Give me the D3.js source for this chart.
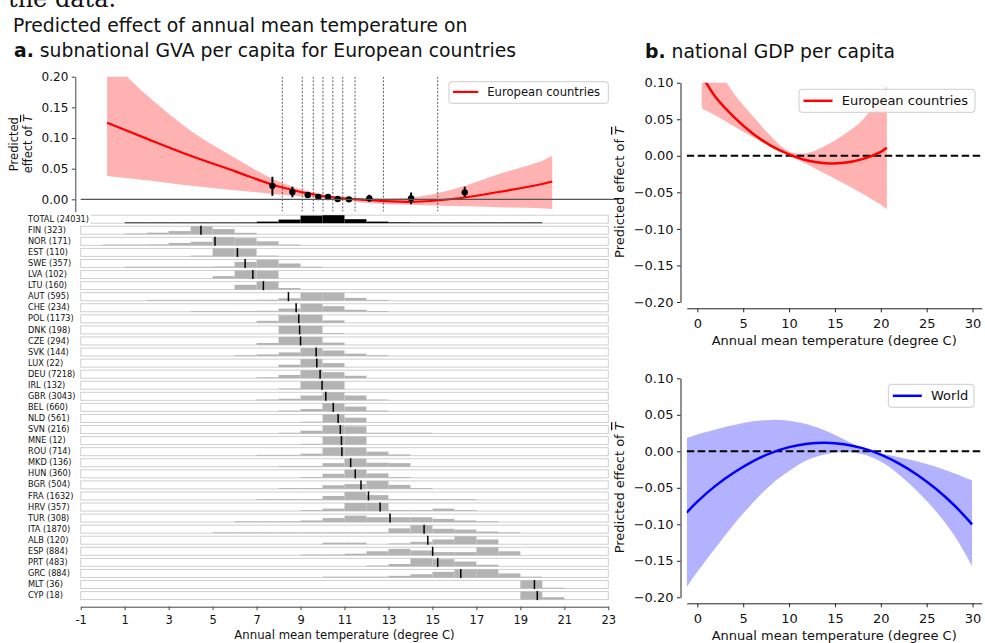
<!DOCTYPE html>
<html>
<head>
<meta charset="utf-8">
<script src="https://cdn.jsdelivr.net/npm/d3@7"></script>
<style>
body { margin: 0; background: #fff; }
svg { display: block; font-family: "DejaVu Sans", sans-serif; }
</style>
</head>
<body>
<svg id="chart" width="985" height="643"></svg>
<script>
// ---------- panel a, top: fitted curve for European regions ----------
var curveTemps  = [0.2, 2, 4, 6, 8, 10, 12, 14, 16, 18, 20, 20.45];
var curveEffect = [0.125, 0.099, 0.071, 0.046, 0.021, 0.0055, -0.001, -0.004, 0.001, 0.012, 0.025, 0.029];
var curveUpper  = [0.232, 0.170, 0.112, 0.068, 0.029, 0.008, 0.002, 0.003, 0.017, 0.041, 0.063, 0.071];
var curveLower  = [0.038, 0.031, 0.022, 0.015, 0.008, 0.002, -0.006, -0.009, -0.011, -0.013, -0.015, -0.016];

// decile bin estimates (dots with error bars) and decile cut points
var binTemps  = [7.72, 8.63, 9.33, 9.81, 10.25, 10.69, 11.2, 12.13, 14.03, 16.47];
var binEffect = [0.022, 0.012, 0.007, 0.0037, 0.0037, 0.0006, 0.0, 0.0016, 0.0016, 0.0114];
var binLow    = [0.006, 0.0035, 0.0026, 0.001, 0.001, -0.001, -0.0015, -0.004, -0.008, 0.004];
var binHigh   = [0.037, 0.0205, 0.0114, 0.006, 0.006, 0.002, 0.0015, 0.0075, 0.011, 0.0206];
var cutTemps  = [8.17, 9.08, 9.58, 10.02, 10.47, 10.92, 11.48, 12.77, 15.24];

// ---------- panel a, bottom: temperature distribution per country ----------
var totalCount = 24031;
var totalHistStart = 1;
var totalHistShare = [0.01, 0.01, 0.02, 0.03, 0.05, 0.1, 0.2, 0.45, 0.95, 1.0, 0.5, 0.2, 0.12, 0.1, 0.08, 0.06, 0.05, 0.03, 0.01];

var countryCodes = ['FIN', 'NOR', 'EST', 'SWE', 'LVA', 'LTU', 'AUT', 'CHE', 'POL', 'DNK', 'CZE', 'SVK',
                    'LUX', 'DEU', 'IRL', 'GBR', 'BEL', 'NLD', 'SVN', 'MNE', 'ROU', 'MKD', 'HUN', 'BGR',
                    'FRA', 'HRV', 'TUR', 'ITA', 'ALB', 'ESP', 'PRT', 'GRC', 'MLT', 'CYP'];
var countryCounts = [323, 171, 110, 357, 102, 160, 595, 234, 1173, 198, 294, 144,
                     22, 7218, 132, 3043, 660, 561, 216, 12, 714, 136, 360, 504,
                     1632, 357, 308, 1870, 120, 884, 483, 884, 36, 18];
var countryMeans = [4.47, 5.11, 6.13, 6.48, 6.83, 7.31, 8.45, 8.8, 8.92, 8.96, 9.0, 9.71,
                    9.74, 9.89, 9.98, 10.15, 10.49, 10.71, 10.81, 10.86, 10.88, 11.28, 11.49, 11.75,
                    12.09, 12.62, 13.07, 14.62, 14.79, 15.01, 15.24, 16.29, 19.64, 19.77];
var histStart = [1, 0, 4, 1, 5, 6, 2, 4, 7, 8, 7, 6,
                 8, 7, 8, 7, 8, 9, 8, 9, 7, 8, 9, 8,
                 7, 9, 6, 5, 10, 9, 12, 10, 19, 19];
var histShare = [
  [0.08, 0.2, 0.4, 1.0, 0.65, 0.18],
  [0.03, 0.05, 0.12, 0.3, 0.45, 1.0, 0.9, 0.5, 0.1],
  [0.05, 1.0, 0.95, 0.1],
  [0.02, 0.03, 0.04, 0.06, 0.13, 0.7, 0.95, 0.5, 0.06],
  [0.3, 1.0, 0.95],
  [0.6, 1.0, 0.2],
  [0.03, 0.04, 0.05, 0.08, 0.1, 0.12, 0.3, 1.0, 1.0, 0.35, 0.05],
  [0.03, 0.04, 0.06, 0.12, 0.4, 1.0, 0.7, 0.25, 0.05],
  [0.25, 0.95, 1.0, 0.3],
  [1.0, 1.0, 0.1],
  [0.25, 1.0, 1.0, 0.3],
  [0.04, 0.2, 0.45, 1.0, 0.7, 0.3, 0.05],
  [0.3, 1.0, 0.5],
  [0.1, 0.4, 1.0, 0.75, 0.3],
  [0.05, 1.0, 1.0],
  [0.03, 0.2, 0.6, 1.0, 0.6, 0.04],
  [0.05, 0.3, 1.0, 0.6, 0.03],
  [0.05, 1.0, 0.6],
  [0.05, 0.35, 1.0, 0.9, 0.05, 0.05, 0.02],
  [0.05, 1.0, 1.0],
  [0.03, 0.05, 0.25, 1.0, 1.0, 0.5, 0.15],
  [0.1, 0.1, 0.45, 1.0, 0.5, 0.45],
  [0.05, 0.5, 1.0, 0.55, 0.05],
  [0.05, 0.1, 0.45, 0.6, 1.0, 0.5, 0.05],
  [0.03, 0.05, 0.1, 0.5, 1.0, 0.6, 0.1, 0.05, 0.04, 0.03],
  [0.03, 0.3, 1.0, 1.0, 0.05, 0.05, 0.3, 0.03],
  [0.02, 0.1, 0.05, 0.2, 0.5, 0.8, 0.6, 0.6, 0.6, 0.4, 0.2, 0.1],
  [0.02, 0.01, 0.01, 0.02, 0.02, 0.03, 0.04, 0.1, 0.6, 1.0, 0.55, 0.45, 0.2, 0.05],
  [0.2, 0.2, 0, 0.05, 0.3, 0.6, 1.0, 0.6],
  [0.03, 0.1, 0.2, 0.5, 0.8, 0.6, 0.4, 0.4, 1.0, 0.5],
  [0.1, 0.3, 1.0, 0.9, 0.6, 0.2],
  [0.02, 0.1, 0.1, 0.2, 0.4, 0.7, 1.0, 1.0, 0.5, 0.05],
  [1.0, 0.05],
  [1.0, 0.3]
];
var xTicksA = [-1, 1, 3, 5, 7, 9, 11, 13, 15, 17, 19, 21, 23];
var yTicksA = [0, 0.05, 0.1, 0.15, 0.2];

// ---------- panel b: national GDP per capita ----------
var euTemps  = [0.48, 0.95, 2, 4, 6, 8, 10, 12, 14, 16, 18, 20, 20.66];
var euEffect = [0.109, 0.100, 0.080, 0.053, 0.031, 0.014, 0.002, -0.0065, -0.0102, -0.0096, -0.0045, 0.0055, 0.011];
var euUpper  = [0.170, 0.155, 0.125, 0.085, 0.055, 0.027, 0.006, 0.004, 0.014, 0.029, 0.049, 0.083, 0.095];
var euLower  = [0.065, 0.062, 0.055, 0.040, 0.026, 0.012, 0.000, -0.012, -0.025, -0.038, -0.052, -0.067, -0.073];

var worldTemps  = [-1.16, 0, 2, 4, 6, 8, 10, 12, 14, 16, 18, 20, 22, 24, 26, 28, 29.95];
var worldEffect = [-0.084, -0.069, -0.047, -0.029, -0.014, -0.0025, 0.0057, 0.0104, 0.0118, 0.0097, 0.0043, -0.0045, -0.0168, -0.0324, -0.0514, -0.0739, -0.100];
var worldUpper  = [0.018, 0.023, 0.030, 0.036, 0.041, 0.043, 0.042, 0.037, 0.028, 0.016, 0.004, -0.003, -0.008, -0.014, -0.021, -0.030, -0.040];
var worldLower  = [-0.186, -0.165, -0.132, -0.100, -0.071, -0.046, -0.027, -0.012, -0.004, -0.001, -0.004, -0.014, -0.032, -0.055, -0.082, -0.115, -0.157];

var xTicksB = [0, 5, 10, 15, 20, 25, 30];
var yTicksB = [-0.2, -0.15, -0.1, -0.05, 0, 0.05, 0.1];

// ------------------------------------------------------------------
var svg = d3.select('#chart');
var defs = svg.append('defs');
var smooth = d3.curveCatmullRom.alpha(0.5);

function zipSeries(temps, eff, lo, hi) {
    return temps.map(function(t, i) {
        return { t: t, v: eff[i], lo: lo[i], hi: hi[i] };
    });
}

function overlineLabel(sel, x, y, fontSize, lines) {
    // rotated y label, the last word is a T with a bar over it
    var txt = sel.append('text')
        .attr('transform', 'translate(' + x + ',' + y + ') rotate(-90)')
        .attr('text-anchor', 'middle')
        .attr('font-size', fontSize)
        .attr('fill', '#111');
    txt.append('tspan').text(lines);
    txt.append('tspan')
        .attr('font-style', 'italic')
        .attr('text-decoration', 'overline')
        .text('T');
    return txt;
}

// ---- headings ----
svg.append('text')
    .attr('x', 8).attr('y', 6.5)
    .attr('font-family', '"DejaVu Serif", serif')
    .attr('font-size', 24)
    .attr('fill', '#111')
    .text('the data.');

svg.append('text')
    .attr('x', 13).attr('y', 31.7)
    .attr('font-size', 18.8)
    .attr('fill', '#111')
    .text('Predicted effect of annual mean temperature on');

var titleA = svg.append('text')
    .attr('x', 14).attr('y', 56.7)
    .attr('font-size', 18.8)
    .attr('fill', '#111');
titleA.append('tspan').attr('font-weight', 'bold').text('a.');
titleA.append('tspan').text(' subnational GVA per capita for European countries');

var titleB = svg.append('text')
    .attr('x', 645).attr('y', 58.3)
    .attr('font-size', 18.8)
    .attr('fill', '#111');
titleB.append('tspan').attr('font-weight', 'bold').text('b.');
titleB.append('tspan').text(' national GDP per capita');

// ================= panel a, top =================
var xA = d3.scaleLinear().domain([-1, 23]).range([80.7, 608.3]);
var yA = d3.scaleLinear().domain([-0.02, 0.2]).range([211.6, 76.7]);
var topRight = 618;

defs.append('clipPath').attr('id', 'clipA')
  .append('rect')
    .attr('x', xA(-1)).attr('y', yA(0.2))
    .attr('width', topRight - xA(-1))
    .attr('height', yA(-0.02) - yA(0.2));

var topA = svg.append('g');
var plotA = topA.append('g').attr('clip-path', 'url(#clipA)');
var dataA = zipSeries(curveTemps, curveEffect, curveLower, curveUpper);

plotA.append('path')
    .datum(dataA)
    .attr('fill', 'red')
    .attr('fill-opacity', 0.3)
    .attr('d', d3.area()
        .x(d => xA(d.t))
        .y0(d => yA(d.lo))
        .y1(d => yA(d.hi))
        .curve(smooth));

plotA.selectAll('.cut')
    .data(cutTemps)
    .enter()
    .append('line')
        .classed('cut', true)
        .attr('x1', d => xA(d)).attr('x2', d => xA(d))
        .attr('y1', yA(0.2)).attr('y2', yA(-0.02))
        .attr('stroke', '#333')
        .attr('stroke-width', 0.8)
        .attr('stroke-dasharray', '2,1.6');

topA.append('line')
    .attr('x1', xA(-1)).attr('x2', topRight)
    .attr('y1', yA(0)).attr('y2', yA(0))
    .attr('stroke', '#555')
    .attr('stroke-width', 1.2);

plotA.append('path')
    .datum(dataA)
    .attr('fill', 'none')
    .attr('stroke', 'red')
    .attr('stroke-width', 2.2)
    .attr('d', d3.line()
        .x(d => xA(d.t))
        .y(d => yA(d.v))
        .curve(smooth));

var binData = zipSeries(binTemps, binEffect, binLow, binHigh);
plotA.selectAll('.ebar')
    .data(binData)
    .enter()
    .append('line')
        .classed('ebar', true)
        .attr('x1', d => xA(d.t)).attr('x2', d => xA(d.t))
        .attr('y1', d => yA(d.lo)).attr('y2', d => yA(d.hi))
        .attr('stroke', '#000')
        .attr('stroke-width', 2);

plotA.selectAll('.dot')
    .data(binData)
    .enter()
    .append('circle')
        .classed('dot', true)
        .attr('cx', d => xA(d.t))
        .attr('cy', d => yA(d.v))
        .attr('r', 3.2)
        .attr('fill', '#000');

var yAxisA = topA.append('g')
    .attr('transform', 'translate(75.3,0)')
    .call(d3.axisLeft(yA)
        .tickValues(yTicksA)
        .tickFormat(d3.format('.2f'))
        .tickSize(3.5)
        .tickSizeOuter(0)
        .tickPadding(3.5));
yAxisA.selectAll('text').attr('font-size', 12).attr('font-family', '"DejaVu Sans"').attr('fill', '#111');
yAxisA.selectAll('line, path').attr('stroke', '#444');

var ylabA = topA.append('g');
ylabA.append('text')
    .attr('transform', 'translate(18.3,' + ((yA(0.2) + yA(-0.02)) / 2) + ') rotate(-90)')
    .attr('text-anchor', 'middle')
    .attr('font-size', 11.5)
    .attr('fill', '#111')
    .text('Predicted');
overlineLabel(ylabA, 32, (yA(0.2) + yA(-0.02)) / 2, 11.5, 'effect of ');

// legend a
var legA = topA.append('g');
legA.append('rect')
    .attr('x', 449).attr('y', 81.7).attr('width', 159.3).attr('height', 21.6)
    .attr('rx', 2.5)
    .attr('fill', '#fff').attr('fill-opacity', 0.85)
    .attr('stroke', '#ccc');
legA.append('line')
    .attr('x1', 453).attr('x2', 478.3).attr('y1', 91.9).attr('y2', 91.9)
    .attr('stroke', 'red').attr('stroke-width', 2.2);
legA.append('text')
    .attr('x', 487.3).attr('y', 96)
    .attr('font-size', 11.6).attr('fill', '#111')
    .text('European countries');

// ================= panel a, bottom: histograms =================
var rowTop0 = 215.2, rowStep = 11.07, rowH = 8;
var rows = [{ label: 'TOTAL (' + totalCount + ')', start: totalHistStart, share: totalHistShare, mean: null, total: true }];
countryCodes.forEach(function(code, i) {
    rows.push({
        label: code + ' (' + countryCounts[i] + ')',
        start: histStart[i],
        share: histShare[i],
        mean: countryMeans[i],
        total: false
    });
});

var rowG = svg.append('g').selectAll('.row')
    .data(rows)
    .enter()
    .append('g')
        .classed('row', true)
        .attr('transform', (d, i) => 'translate(0,' + (rowTop0 + i * rowStep) + ')');

rowG.append('rect')
    .attr('x', xA(-1)).attr('y', 0)
    .attr('width', xA(23) - xA(-1)).attr('height', rowH)
    .attr('fill', '#fff')
    .attr('stroke', '#cfcfcf')
    .attr('stroke-width', 1);

rowG.each(function(d) {
    var g = d3.select(this);
    var bins = d.share.map((s, j) => ({ t: d.start + j, s: s })).filter(b => b.s > 0);
    g.selectAll('.bin')
        .data(bins)
        .enter()
        .append('rect')
            .classed('bin', true)
            .attr('x', b => xA(b.t))
            .attr('width', b => xA(b.t + 1) - xA(b.t))
            .attr('y', b => rowH - Math.max(0.8, b.s * rowH))
            .attr('height', b => Math.max(0.8, b.s * rowH))
            .attr('fill', d.total ? '#000' : '#b3b3b3');
    if (d.mean !== null) {
        g.append('line')
            .attr('x1', xA(d.mean)).attr('x2', xA(d.mean))
            .attr('y1', -0.5).attr('y2', rowH + 0.5)
            .attr('stroke', '#000')
            .attr('stroke-width', 1.5);
    }
});

// labels go on top; the long TOTAL label gets a white patch behind it
rowG.each(function(d) {
    var g = d3.select(this);
    var t = g.append('text')
        .attr('x', 28).attr('y', 6.6)
        .attr('font-size', 8.2)
        .attr('fill', '#111')
        .text(d.label);
    var w = t.node().getComputedTextLength();
    if (28 + w > xA(-1)) {
        g.insert('rect', 'text')
            .attr('x', xA(-1) - 0.5).attr('y', -1)
            .attr('width', 28 + w - xA(-1) + 2).attr('height', rowH + 2)
            .attr('fill', '#fff');
    }
});

var xAxisA = svg.append('g')
    .attr('transform', 'translate(0,606.7)')
    .call(d3.axisBottom(xA)
        .tickValues(xTicksA)
        .tickFormat(d => String(d))
        .tickSize(3.5)
        .tickSizeOuter(0)
        .tickPadding(5.6));
xAxisA.selectAll('text').attr('font-size', 11.5).attr('font-family', '"DejaVu Sans"').attr('fill', '#111');
xAxisA.selectAll('line, path').attr('stroke', '#444');

svg.append('text')
    .attr('x', (xA(-1) + xA(23)) / 2).attr('y', 638.5)
    .attr('text-anchor', 'middle')
    .attr('font-size', 11.7).attr('fill', '#111')
    .text('Annual mean temperature (degree C)');

// ================= panel b =================
var xB = d3.scaleLinear().domain([-1.16, 31.0]).range([686.7, 981.7]);

function drawPanelB(top, bottom, spineY, temps, eff, lo, hi, color, legendName, legendBox, clipId) {
    var yB = d3.scaleLinear().domain([-0.2, 0.1]).range([bottom, top]);
    var g = svg.append('g');

    defs.append('clipPath').attr('id', clipId)
      .append('rect')
        .attr('x', xB(-1.16)).attr('y', top)
        .attr('width', xB(31.0) - xB(-1.16)).attr('height', bottom - top);

    var plot = g.append('g').attr('clip-path', 'url(#' + clipId + ')');
    var data = zipSeries(temps, eff, lo, hi);

    plot.append('path')
        .datum(data)
        .attr('fill', color)
        .attr('fill-opacity', 0.3)
        .attr('d', d3.area()
            .x(d => xB(d.t))
            .y0(d => yB(d.lo))
            .y1(d => yB(d.hi))
            .curve(smooth));

    plot.append('line')
        .attr('x1', xB(-1.16)).attr('x2', xB(31.0))
        .attr('y1', yB(0)).attr('y2', yB(0))
        .attr('stroke', '#000')
        .attr('stroke-width', 2)
        .attr('stroke-dasharray', '7.5,3.5');

    plot.append('path')
        .datum(data)
        .attr('fill', 'none')
        .attr('stroke', color)
        .attr('stroke-width', 2.5)
        .attr('d', d3.line()
            .x(d => xB(d.t))
            .y(d => yB(d.v))
            .curve(smooth));

    var yAx = g.append('g')
        .attr('transform', 'translate(680.5,0)')
        .call(d3.axisLeft(yB)
            .tickValues(yTicksB)
            .tickFormat(d3.format('.2f'))
            .tickSize(3.5)
            .tickSizeOuter(0)
            .tickPadding(3.5));
    yAx.selectAll('text').attr('font-size', 13).attr('font-family', '"DejaVu Sans"').attr('fill', '#111');
    yAx.selectAll('line, path').attr('stroke', '#222');

    var xAx = g.append('g')
        .attr('transform', 'translate(0,' + spineY + ')')
        .call(d3.axisBottom(xB)
            .tickValues(xTicksB)
            .tickSize(4)
            .tickSizeOuter(0)
            .tickPadding(6.5));
    xAx.selectAll('text').attr('font-size', 13).attr('font-family', '"DejaVu Sans"').attr('fill', '#111');
    xAx.selectAll('line, path').attr('stroke', '#222');

    g.append('text')
        .attr('x', (xB(-1.16) + xB(31.0)) / 2).attr('y', spineY + 36.5)
        .attr('text-anchor', 'middle')
        .attr('font-size', 13).attr('fill', '#111')
        .text('Annual mean temperature (degree C)');

    overlineLabel(g, 624, (top + bottom) / 2, 13, 'Predicted effect of ');

    var leg = g.append('g');
    leg.append('rect')
        .attr('x', legendBox[0]).attr('y', legendBox[1])
        .attr('width', legendBox[2]).attr('height', legendBox[3])
        .attr('rx', 3)
        .attr('fill', '#fff').attr('fill-opacity', 0.85)
        .attr('stroke', '#ccc');
    leg.append('line')
        .attr('x1', legendBox[0] + 4.5).attr('x2', legendBox[0] + 33.5)
        .attr('y1', legendBox[1] + legendBox[3] / 2).attr('y2', legendBox[1] + legendBox[3] / 2)
        .attr('stroke', color).attr('stroke-width', 2.5);
    leg.append('text')
        .attr('x', legendBox[0] + 42.7).attr('y', legendBox[1] + legendBox[3] / 2 + 4.6)
        .attr('font-size', 13).attr('fill', '#111')
        .text(legendName);
}

drawPanelB(82.7, 302, 308.3, euTemps, euEffect, euLower, euUpper, 'red',
           'European countries', [799, 89.3, 176, 23], 'clipB1');
drawPanelB(378.3, 597.3, 603.3, worldTemps, worldEffect, worldLower, worldUpper, 'blue',
           'World', [888.3, 384.3, 85.7, 23], 'clipB2');
</script>
</body>
</html>
